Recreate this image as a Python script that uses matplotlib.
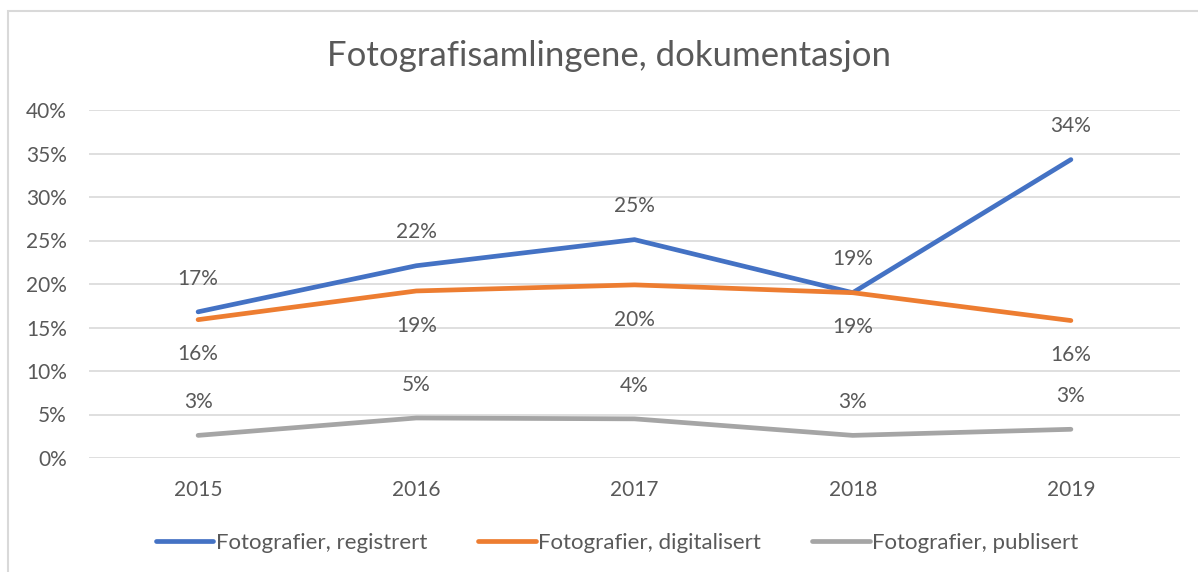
import matplotlib
matplotlib.use("Agg")
import matplotlib.pyplot as plt
from matplotlib.patches import Rectangle
from matplotlib.ticker import PercentFormatter

years = ["2015", "2016", "2017", "2018", "2019"]
registrert = [0.168, 0.221, 0.251, 0.190, 0.343]
digitalisert = [0.159, 0.192, 0.199, 0.190, 0.158]
publisert = [0.026, 0.046, 0.045, 0.026, 0.033]
series_names = ["Fotografier, registrert", "Fotografier, digitalisert", "Fotografier, publisert"]
title = "Fotografisamlingene, dokumentasjon"
yticks = [0, 0.05, 0.10, 0.15, 0.20, 0.25, 0.30, 0.35, 0.40]

plt.rcParams['font.family'] = ['Lato', 'DejaVu Sans']
txt = "#595959"

fig = plt.figure(figsize=(11.98, 5.72), dpi=100)
fig.patches.append(Rectangle((8/1198, -0.1), 1.2, 1 - 11/572 + 0.1, transform=fig.transFigure,
                             fill=False, edgecolor="#d9d9d9", linewidth=1.5))
ax = fig.add_axes([89/1198, 1 - 458/572, (1180 - 89)/1198, (458 - 110)/572])

x = list(range(len(years)))
colors = ["#4472C4", "#ED7D31", "#A5A5A5"]
data = [registrert, digitalisert, publisert]
offsets = [24, -25, 24]
for vals, c, name, off in zip(data, colors, series_names, offsets):
    ax.plot(x, vals, color=c, lw=3.4, solid_capstyle="round", label=name, zorder=3)
    for xi, v in zip(x, vals):
        ax.annotate(f"{round(v*100):.0f}%", (xi, v), xytext=(0, off), textcoords="offset points",
                    ha="center", va="center", fontsize=15, color=txt)

ax.set_xlim(-0.5, len(years) - 0.5)
ax.set_ylim(0, 0.40)
ax.set_yticks(yticks)
ax.yaxis.set_major_formatter(PercentFormatter(1.0, decimals=0))
ax.set_xticks(x)
ax.set_xticklabels(years)
ax.tick_params(axis="both", length=0, labelsize=15, colors=txt)
ax.tick_params(axis="y", pad=16)
ax.tick_params(axis="x", pad=16)
ax.grid(axis="y", color="#d9d9d9", lw=1.2)
ax.set_axisbelow(True)
for s in ax.spines.values():
    s.set_visible(False)

fig.text(609/1198, 1 - 56/572, title, ha="center", va="center", fontsize=25, color=txt)

fig.legend(loc="center", bbox_to_anchor=(617/1198, 1 - 543/572), ncol=3, frameon=False,
           fontsize=16, labelcolor=txt, handlelength=2.6, handletextpad=0.1, columnspacing=2.3)

fig.savefig("out.png", dpi=100, facecolor="white")
